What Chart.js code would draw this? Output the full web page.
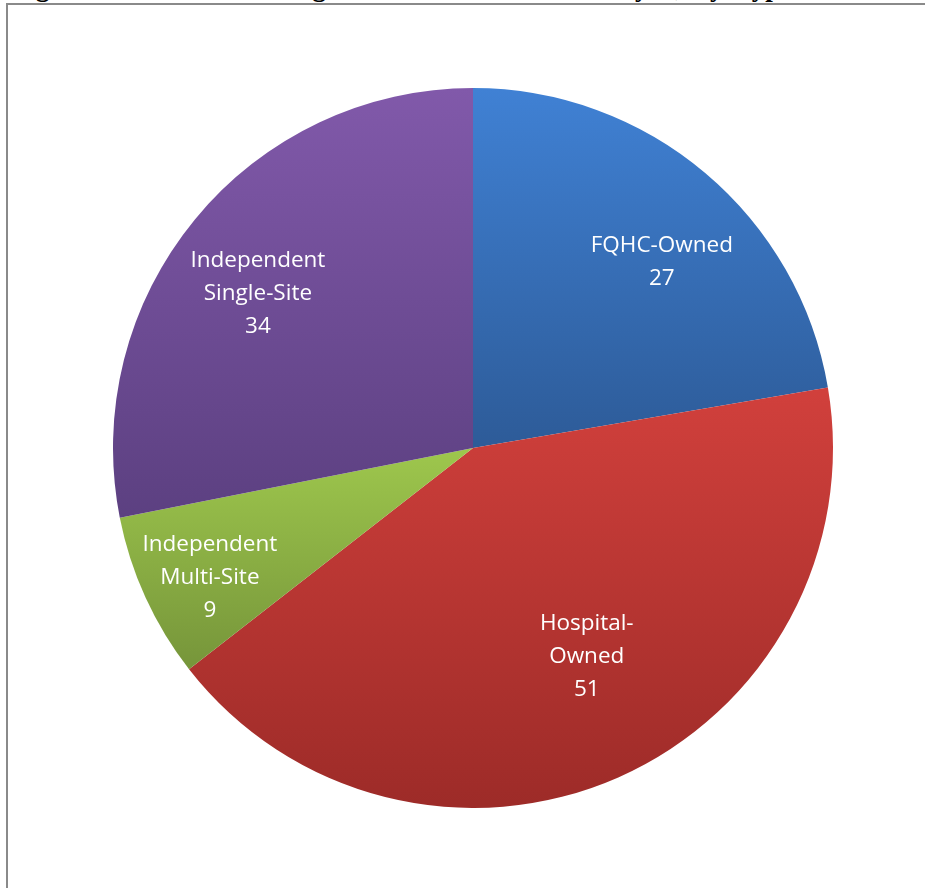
<!DOCTYPE html>
<html>
<head>
<meta charset="utf-8">
<script src="https://cdn.jsdelivr.net/npm/chart.js@4/dist/chart.umd.min.js"></script>
<style>
  html, body { margin: 0; padding: 0; background: #fff; width: 925px; height: 888px; overflow: hidden; position: relative; }
  #title { position: absolute; left: 12px; top: -26px; font: bold 27px "Liberation Serif", "Times New Roman", serif; line-height: 26px; white-space: nowrap; color: #000; word-spacing: 6px; }
  #frame { position: absolute; left: 6px; top: 3px; width: 1000px; height: 1000px; border: 2px solid #8a8a8a; box-sizing: border-box; background: #fff; }
  #wrap { position: absolute; left: 113px; top: 88px; width: 720px; height: 720px; }
</style>
</head>
<body>
<div id="title">Figure 5: Number of Organization Members Surveyed, by Type</div>
<div id="frame"></div>
<div id="wrap"><canvas id="c"></canvas></div>
<script>
// Data
const categories = ["FQHC-Owned", "Hospital-Owned", "Independent Multi-Site", "Independent Single-Site"];
const labelLines = [["FQHC-Owned"], ["Hospital-", "Owned"], ["Independent", "Multi-Site"], ["Independent", "Single-Site"]];
const counts = [27, 51, 9, 34];

// Styles
const topColors = ["#4081d4", "#d1403c", "#9ec74d", "#8159aa"];
const bottomColors = ["#2d5b98", "#9d2b28", "#76953a", "#5c4081"];
// label placement: [angle offset (deg) from slice mid-angle, radius fraction]
const labelPlace = [[5.3, 0.736], [-4.8, 0.66], [-1.7, 0.815], [-3.8, 0.735]];

function sliceGradient(ctx) {
  const chart = ctx.chart;
  const area = chart.chartArea;
  const i = ctx.dataIndex;
  if (!area) return topColors[i];
  const cx = (area.left + area.right) / 2, cy = (area.top + area.bottom) / 2;
  const r = Math.min(area.right - area.left, area.bottom - area.top) / 2;
  const total = counts.reduce((a, b) => a + b, 0);
  let cum = 0;
  for (let k = 0; k < i; k++) cum += counts[k];
  const a0 = -Math.PI / 2 + cum / total * 2 * Math.PI;
  const a1 = a0 + counts[i] / total * 2 * Math.PI;
  let ys = [cy, cy + r * Math.sin(a0), cy + r * Math.sin(a1)];
  const norm = (a) => { while (a < a0) a += 2 * Math.PI; return a; };
  if (norm(Math.PI / 2) <= a1) ys.push(cy + r);
  if (norm(-Math.PI / 2) <= a1) ys.push(cy - r);
  const y0 = Math.min(...ys), y1 = Math.max(...ys);
  const g = chart.ctx.createLinearGradient(0, y0, 0, y1);
  g.addColorStop(0, topColors[i]);
  g.addColorStop(1, bottomColors[i]);
  return g;
}

const labelPlugin = {
  id: 'sliceLabels',
  afterDatasetsDraw(chart) {
    const meta = chart.getDatasetMeta(0);
    const c = chart.ctx;
    c.save();
    c.fillStyle = '#ffffff';
    c.font = '22.5px "Open Sans", "Liberation Sans", sans-serif';
    c.textAlign = 'center';
    c.textBaseline = 'middle';
    const lineH = 33;
    meta.data.forEach((arc, i) => {
      const mid = (arc.startAngle + arc.endAngle) / 2 + labelPlace[i][0] * Math.PI / 180;
      const rr = arc.outerRadius * labelPlace[i][1];
      const x = arc.x + Math.cos(mid) * rr;
      const y = arc.y + Math.sin(mid) * rr;
      const lines = labelLines[i].concat([String(counts[i])]);
      const startY = y - (lines.length - 1) * lineH / 2;
      lines.forEach((t, j) => c.fillText(t, x, startY + j * lineH));
    });
    c.restore();
  }
};

new Chart(document.getElementById('c'), {
  type: 'pie',
  data: {
    labels: categories,
    datasets: [{
      data: counts,
      backgroundColor: sliceGradient,
      borderWidth: 0
    }]
  },
  options: {
    responsive: true,
    maintainAspectRatio: false,
    animation: false,
    layout: { padding: 0 },
    plugins: { legend: { display: false }, tooltip: { enabled: false }, title: { display: false } }
  },
  plugins: [labelPlugin]
});
</script>
</body>
</html>
